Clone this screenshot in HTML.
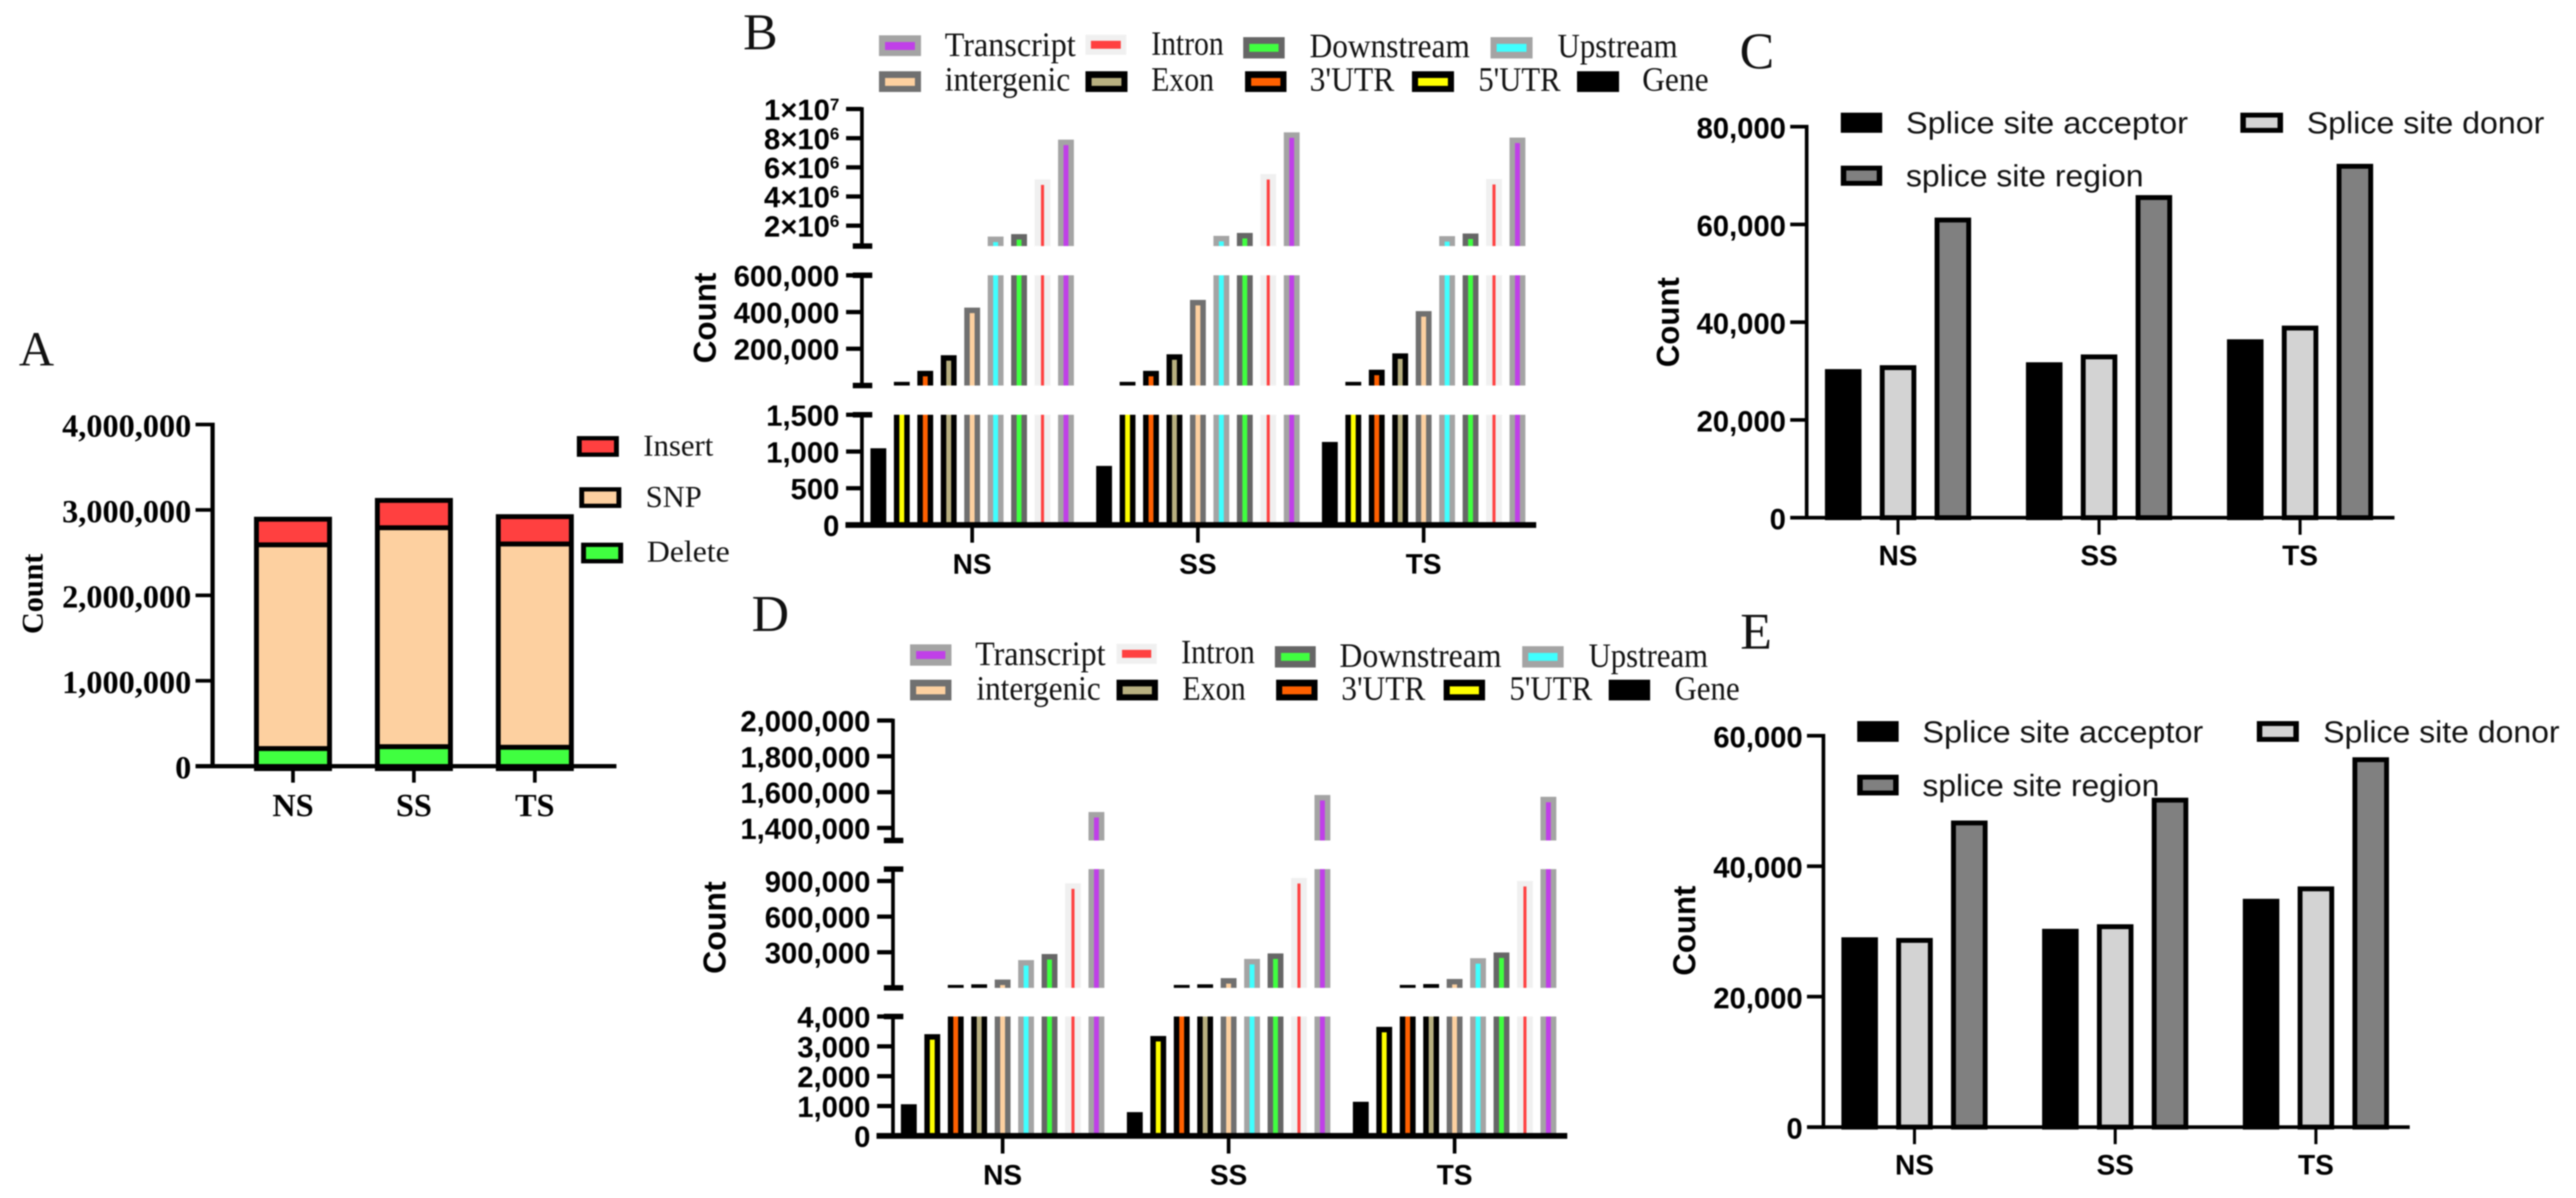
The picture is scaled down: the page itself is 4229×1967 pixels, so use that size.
<!DOCTYPE html>
<html lang="en">
<head>
<meta charset="utf-8">
<title>Variant annotation counts, panels A to E</title>
<style>
html,body{margin:0;padding:0;background:#fff;}
#figure{display:block;filter:blur(1.1px);}
.letter{font:85px "Liberation Serif",serif;fill:#111;}
.lgs{font:56px "Liberation Serif",serif;fill:#111;}
.lga{font:50px "Liberation Serif",serif;fill:#111;}
.lgp{font:50px "Liberation Sans",sans-serif;fill:#111;}
.cntS{font:bold 50px "Liberation Serif",serif;fill:#000;}
.cnt{font:bold 52px "Liberation Sans",sans-serif;fill:#000;}
</style>
</head>
<body>
<svg id="figure" xmlns="http://www.w3.org/2000/svg" width="4229" height="1967" viewBox="0 0 4229 1967">
<rect x="0" y="0" width="4229" height="1967" fill="#fff"/>

<g id="panelA">
  <text class="letter" x="31" y="600" style="font-size:80px">A</text>
  <text class="cntS" transform="translate(70,975) rotate(-90)" text-anchor="middle" textLength="132" lengthAdjust="spacingAndGlyphs">Count</text>
  <g>
    <rect x="947" y="716" width="69" height="34" fill="#000"/><rect x="955" y="723" width="53" height="20" fill="#ff4040"/>
    <text class="lga" x="1056" y="748" textLength="115" lengthAdjust="spacingAndGlyphs">Insert</text>
  </g>
  <g>
    <rect x="951" y="800" width="69" height="34" fill="#000"/><rect x="959" y="807" width="53" height="20" fill="#fdd0a0"/>
    <text class="lga" x="1060" y="832" textLength="92" lengthAdjust="spacingAndGlyphs">SNP</text>
  </g>
  <g>
    <rect x="954" y="891" width="69" height="34" fill="#000"/><rect x="962" y="898" width="53" height="20" fill="#40ff40"/>
    <text class="lga" x="1062" y="922" textLength="136" lengthAdjust="spacingAndGlyphs">Delete</text>
  </g>
</g>

<g id="panelB">
  <text class="letter" x="1220" y="81">B</text>
  <text class="cnt" transform="translate(1175,522) rotate(-90)" text-anchor="middle" textLength="149" lengthAdjust="spacingAndGlyphs">Count</text>
  <g><rect x="1443" y="58" width="69" height="34" fill="#a4a4a4"/><rect x="1453" y="69" width="49" height="13" fill="#c040e8"/><text class="lgs" x="1551" y="92" textLength="215" lengthAdjust="spacingAndGlyphs">Transcript</text></g>
  <g><rect x="1782" y="57" width="67" height="33" fill="#f0f0f0"/><rect x="1791" y="67" width="49" height="13" fill="#ff4040"/><text class="lgs" x="1890" y="90" textLength="119" lengthAdjust="spacingAndGlyphs">Intron</text></g>
  <g><rect x="2041" y="61" width="68" height="35" fill="#666"/><rect x="2051" y="72" width="48" height="13" fill="#40ff40"/><text class="lgs" x="2150" y="94" textLength="263" lengthAdjust="spacingAndGlyphs">Downstream</text></g>
  <g><rect x="2447" y="61" width="69" height="35" fill="#a4a4a4"/><rect x="2457" y="72" width="49" height="13" fill="#40ffff"/><text class="lgs" x="2557" y="94" textLength="197" lengthAdjust="spacingAndGlyphs">Upstream</text></g>
  <g><rect x="1443" y="117" width="69" height="34" fill="#707070"/><rect x="1453" y="128" width="49" height="13" fill="#fdd0a0"/><text class="lgs" x="1551" y="149" textLength="206" lengthAdjust="spacingAndGlyphs">intergenic</text></g>
  <g><rect x="1782" y="117" width="69" height="34" fill="#000"/><rect x="1792" y="128" width="49" height="13" fill="#b8b080"/><text class="lgs" x="1890" y="149" textLength="103" lengthAdjust="spacingAndGlyphs">Exon</text></g>
  <g><rect x="2044" y="117" width="68" height="34" fill="#000"/><rect x="2054" y="128" width="48" height="13" fill="#ff6000"/><text class="lgs" x="2150" y="149" textLength="139" lengthAdjust="spacingAndGlyphs">3'UTR</text></g>
  <g><rect x="2318" y="117" width="69" height="34" fill="#000"/><rect x="2328" y="128" width="49" height="13" fill="#ffff00"/><text class="lgs" x="2427" y="149" textLength="135" lengthAdjust="spacingAndGlyphs">5'UTR</text></g>
  <g><rect x="2589" y="117" width="69" height="34" fill="#000"/><text class="lgs" x="2696" y="149" textLength="109" lengthAdjust="spacingAndGlyphs">Gene</text></g>
</g>

<g id="panelC">
  <text class="letter" x="2856" y="112">C</text>
  <text class="cnt" transform="translate(2756,529) rotate(-90)" text-anchor="middle" textLength="148" lengthAdjust="spacingAndGlyphs">Count</text>
  <g><rect x="3022" y="185" width="68" height="33" fill="#000"/><text class="lgp" x="3129" y="219" textLength="463" lengthAdjust="spacingAndGlyphs">Splice site acceptor</text></g>
  <g><rect x="3678" y="185" width="70" height="33" fill="#000"/><rect x="3687" y="193" width="52" height="17" fill="#d3d3d3"/><text class="lgp" x="3787" y="219" textLength="390" lengthAdjust="spacingAndGlyphs">Splice site donor</text></g>
  <g><rect x="3022" y="272" width="68" height="33" fill="#000"/><rect x="3031" y="280" width="50" height="17" fill="#808080"/><text class="lgp" x="3129" y="306" textLength="390" lengthAdjust="spacingAndGlyphs">splice site region</text></g>
</g>

<g id="panelD">
  <text class="letter" x="1234" y="1036">D</text>
  <text class="cnt" transform="translate(1191,1523) rotate(-90)" text-anchor="middle" textLength="152" lengthAdjust="spacingAndGlyphs">Count</text>
  <g><rect x="1494" y="1058" width="68" height="35" fill="#a4a4a4"/><rect x="1504" y="1069" width="48" height="13" fill="#c040e8"/><text class="lgs" x="1601" y="1092" textLength="214" lengthAdjust="spacingAndGlyphs">Transcript</text></g>
  <g><rect x="1833" y="1057" width="66" height="33" fill="#f0f0f0"/><rect x="1842" y="1067" width="48" height="13" fill="#ff4040"/><text class="lgs" x="1939" y="1089" textLength="121" lengthAdjust="spacingAndGlyphs">Intron</text></g>
  <g><rect x="2093" y="1061" width="67" height="35" fill="#666"/><rect x="2103" y="1072" width="47" height="13" fill="#40ff40"/><text class="lgs" x="2199" y="1095" textLength="266" lengthAdjust="spacingAndGlyphs">Downstream</text></g>
  <g><rect x="2499" y="1061" width="68" height="35" fill="#a4a4a4"/><rect x="2509" y="1072" width="48" height="13" fill="#40ffff"/><text class="lgs" x="2608" y="1095" textLength="196" lengthAdjust="spacingAndGlyphs">Upstream</text></g>
  <g><rect x="1494" y="1116" width="68" height="34" fill="#707070"/><rect x="1504" y="1127" width="48" height="13" fill="#fdd0a0"/><text class="lgs" x="1603" y="1149" textLength="204" lengthAdjust="spacingAndGlyphs">intergenic</text></g>
  <g><rect x="1833" y="1116" width="68" height="34" fill="#000"/><rect x="1843" y="1127" width="48" height="13" fill="#b8b080"/><text class="lgs" x="1941" y="1149" textLength="104" lengthAdjust="spacingAndGlyphs">Exon</text></g>
  <g><rect x="2095" y="1116" width="68" height="34" fill="#000"/><rect x="2105" y="1127" width="48" height="13" fill="#ff6000"/><text class="lgs" x="2202" y="1149" textLength="138" lengthAdjust="spacingAndGlyphs">3'UTR</text></g>
  <g><rect x="2370" y="1116" width="68" height="34" fill="#000"/><rect x="2380" y="1127" width="48" height="13" fill="#ffff00"/><text class="lgs" x="2478" y="1149" textLength="136" lengthAdjust="spacingAndGlyphs">5'UTR</text></g>
  <g><rect x="2641" y="1116" width="68" height="34" fill="#000"/><text class="lgs" x="2749" y="1149" textLength="107" lengthAdjust="spacingAndGlyphs">Gene</text></g>
</g>

<g id="panelE">
  <text class="letter" x="2857" y="1065">E</text>
  <text class="cnt" transform="translate(2783,1528) rotate(-90)" text-anchor="middle" textLength="148" lengthAdjust="spacingAndGlyphs">Count</text>
  <g><rect x="3049" y="1184" width="68" height="34" fill="#000"/><text class="lgp" x="3156" y="1219" textLength="461" lengthAdjust="spacingAndGlyphs">Splice site acceptor</text></g>
  <g><rect x="3705" y="1184" width="69" height="34" fill="#000"/><rect x="3714" y="1192" width="51" height="18" fill="#d3d3d3"/><text class="lgp" x="3814" y="1219" textLength="388" lengthAdjust="spacingAndGlyphs">Splice site donor</text></g>
  <g><rect x="3049" y="1272" width="68" height="34" fill="#000"/><rect x="3058" y="1280" width="50" height="18" fill="#808080"/><text class="lgp" x="3156" y="1307" textLength="389" lengthAdjust="spacingAndGlyphs">splice site region</text></g>
</g>
</svg>

<script>
// ---------- Panel A data ----------
const aCategories = ['NS', 'SS', 'TS'];
const aDelete = [235000, 257000, 250000];
const aSnp = [2385000, 2563000, 2380000];
const aInsert = [300000, 320000, 320000];
const aTicks = [0, 1000000, 2000000, 3000000, 4000000];
const aTickLabels = ['0', '1,000,000', '2,000,000', '3,000,000', '4,000,000'];

// ---------- Panel B data ----------
const bCategories = ['NS', 'SS', 'TS'];
const bGene = [1044, 804, 1130];
const b5utr = [20000, 20000, 20000];
const b3utr = [80000, 80000, 86000];
const bExon = [165000, 170000, 175000];
const bIntergenic = [424000, 466000, 405000];
const bUpstream = [1250000, 1300000, 1280000];
const bDownstream = [1420000, 1500000, 1460000];
const bIntron = [5170000, 5540000, 5200000];
const bTranscript = [7900000, 8400000, 8040000];
const bTopTicks = [2000000, 4000000, 6000000, 8000000, 10000000];
const bTopTickLabels = ['2×10', '4×10', '6×10', '8×10', '1×10'];
const bTopTickExponents = ['6', '6', '6', '6', '7'];
const bMidTicks = [200000, 400000, 600000];
const bMidTickLabels = ['200,000', '400,000', '600,000'];
const bLowTicks = [0, 500, 1000, 1500];
const bLowTickLabels = ['0', '500', '1,000', '1,500'];

// ---------- Panel C data ----------
const cCategories = ['NS', 'SS', 'TS'];
const cAcceptor = [30400, 31800, 36500];
const cDonor = [31200, 33400, 39300];
const cRegion = [61400, 66000, 72400];
const cTicks = [0, 20000, 40000, 60000, 80000];
const cTickLabels = ['0', '20,000', '40,000', '60,000', '80,000'];

// ---------- Panel D data ----------
const dCategories = ['NS', 'SS', 'TS'];
const dGene = [1060, 796, 1143];
const d5utr = [3408, 3347, 3653];
const d3utr = [25000, 25000, 25000];
const dExon = [30000, 30000, 32000];
const dIntergenic = [70000, 82000, 75000];
const dUpstream = [234000, 244000, 250000];
const dDownstream = [285000, 290000, 298000];
const dIntron = [880000, 925000, 900000];
const dTranscript = [1489000, 1584000, 1574000];
const dTopTicks = [1400000, 1600000, 1800000, 2000000];
const dTopTickLabels = ['1,400,000', '1,600,000', '1,800,000', '2,000,000'];
const dMidTicks = [300000, 600000, 900000];
const dMidTickLabels = ['300,000', '600,000', '900,000'];
const dLowTicks = [0, 1000, 2000, 3000, 4000];
const dLowTickLabels = ['0', '1,000', '2,000', '3,000', '4,000'];

// ---------- Panel E data ----------
const eCategories = ['NS', 'SS', 'TS'];
const eAcceptor = [29100, 30400, 35000];
const eDonor = [29000, 31100, 36900];
const eRegion = [47000, 50500, 56700];
const eTicks = [0, 20000, 40000, 60000];
const eTickLabels = ['0', '20,000', '40,000', '60,000'];

// ---------- Shared names and colours ----------
const brokenSeriesNames = ['gene', '5utr', '3utr', 'exon', 'intergenic', 'upstream', 'downstream', 'intron', 'transcript'];
const brokenEdgeColors = ['#000', '#000', '#000', '#000', '#707070', '#a4a4a4', '#666', '#f0f0f0', '#a4a4a4'];
const brokenFillColors = ['#000', '#ffff00', '#ff6000', '#b8b080', '#fdd0a0', '#40ffff', '#40ff40', '#ff4040', '#c040e8'];
const spliceSeriesNames = ['acceptor', 'donor', 'region'];
const spliceFillColors = ['#000', '#d3d3d3', '#808080'];

const SVGNS = 'http://www.w3.org/2000/svg';
const SANS = '"Liberation Sans",sans-serif';
const SERIF = '"Liberation Serif",serif';

function mk(tag, parent, props) {
  const node = document.createElementNS(SVGNS, tag);
  Object.keys(props).forEach(function (k) { node.setAttribute(k, props[k]); });
  parent.appendChild(node);
  return node;
}
function linear(d0, d1, r0, r1) {
  return function (v) { return r0 + (v - d0) / (d1 - d0) * (r1 - r0); };
}
function hLine(parent, x1, x2, y, w) {
  return mk('line', parent, { x1: x1, x2: x2, y1: y, y2: y, stroke: '#000', 'stroke-width': w });
}
function vLine(parent, x, y1, y2, w) {
  return mk('line', parent, { x1: x, x2: x, y1: y1, y2: y2, stroke: '#000', 'stroke-width': w });
}
function label(parent, x, y, str, size, family, anchor) {
  const t = mk('text', parent, { x: x, y: y, 'text-anchor': anchor, 'font-family': family, 'font-size': size, 'font-weight': 'bold', fill: '#000' });
  t.textContent = str;
  return t;
}

// ---------- Panel A: stacked bars ----------
(function () {
  const root = document.getElementById('panelA');
  const y = linear(0, 4000000, 1258, 697);
  const x = function (i) { return 481 + i * 198.5; };
  const stacks = [aDelete, aSnp, aInsert];
  const names = ['delete', 'snp', 'insert'];
  const fills = ['#40ff40', '#fdd0a0', '#ff4040'];
  aCategories.forEach(function (cat, i) {
    let base = 0;
    stacks.forEach(function (series, s) {
      const top = base + series[i];
      const bar = mk('rect', root, { x: x(i) - 60, y: y(top) + 4, width: 120, height: Math.max(0, y(base) - y(top)), fill: fills[s], stroke: '#000', 'stroke-width': 8 });
      
      
      base = top;
    });
    const tick = vLine(root, x(i), 1258, 1285, 6);
    
    
    const tl = label(root, x(i), 1340, cat, 53, SERIF, 'middle');
    
    
  });
  const axis = vLine(root, 349, 694, 1261, 7);
  
  
  const base = hLine(root, 321, 1012, 1258, 7);
  
  
  aTicks.forEach(function (v, i) {
    const tick = hLine(root, 321, 349, y(v), 6);
    
    
    const tl = label(root, 314, y(v) + 20, aTickLabels[i], 53, SERIF, 'end');
    
    
  });
})();

// ---------- Panels B and D: broken-axis bars ----------
function drawBroken(rootId, categories, series, segments, layout) {
  const root = document.getElementById(rootId);
  categories.forEach(function (cat, g) {
    series.forEach(function (values, s) {
      const v = values[g];
      const xc = layout.firstBar + g * layout.groupStep + s * layout.barPitch;
      const inner = brokenSeriesNames[s] === 'intron' ? 5 : 8;
      segments.forEach(function (seg) {
        // A bar only reaches a segment once it exceeds the range of the segment below.
        if (v <= seg.floor) { return; }
        const clipped = v >= seg.max;
        const top = seg.y(Math.min(v, seg.max));
        const bottom = seg.y(seg.min);
        const bar = mk('rect', root, { x: xc - 13, y: top, width: 26, height: bottom - top, fill: brokenEdgeColors[s] });
        
        
        const innerTop = clipped ? top : top + 9;
        if (bottom - innerTop > 0) {
          const fill = mk('rect', root, { x: xc - inner / 2, y: innerTop, width: inner, height: bottom - innerTop, fill: brokenFillColors[s] });
          
          
        }
      });
    });
  });
  const ax = layout.axisX;
  segments.forEach(function (seg, idx) {
    const yTop = seg.y(seg.max);
    const yBot = seg.y(seg.min);
    const line = vLine(root, ax, yTop - 3, yBot + 3, 6);
    
    
    seg.ticks.forEach(function (v, i) {
      const yy = seg.y(v);
      const tick = hLine(root, ax - 26, ax, yy, 7);
      
      
      const tl = label(root, ax - 37, yy + 18, seg.labels[i], 48, SANS, 'end');
      
      
      if (seg.exponents) {
        tl.setAttribute('text-anchor', 'end');
        const sup = mk('tspan', tl, { dy: -16, 'font-size': 28 });
        sup.textContent = seg.exponents[i];
      }
    });
    if (idx < segments.length - 1) {
      const capBottom = hLine(root, ax - 15, ax + 17, yBot, 9);
      
      
    }
    if (idx > 0) {
      const capTop = hLine(root, ax - 15, ax + 17, yTop, 9);
      
      
    }
  });
  const zeroY = segments[segments.length - 1].y(0);
  const baseline = hLine(root, ax - 27, layout.baselineEnd, zeroY, 9.5);
  
  
  categories.forEach(function (cat, g) {
    const xc = layout.firstBar + g * layout.groupStep + 4 * layout.barPitch;
    const tick = vLine(root, xc, zeroY, zeroY + 29, 6);
    
    
    const tl = label(root, xc, zeroY + 80, cat, 46, SANS, 'middle');
    
    
  });
}

drawBroken('panelB', bCategories,
  [bGene, b5utr, b3utr, bExon, bIntergenic, bUpstream, bDownstream, bIntron, bTranscript],
  [
    { min: 600000, floor: 600000, max: 10000000, y: linear(600000, 10000000, 404, 179), ticks: bTopTicks, labels: bTopTickLabels, exponents: bTopTickExponents },
    { min: 0, floor: 1500, max: 600000, y: linear(0, 600000, 633, 452), ticks: bMidTicks, labels: bMidTickLabels },
    { min: 0, floor: 0, max: 1500, y: linear(0, 1500, 862, 681), ticks: bLowTicks, labels: bLowTickLabels }
  ],
  { firstBar: 1442, groupStep: 370.6, barPitch: 38.5, axisX: 1415, baselineEnd: 2522 });

drawBroken('panelD', dCategories,
  [dGene, d5utr, d3utr, dExon, dIntergenic, dUpstream, dDownstream, dIntron, dTranscript],
  [
    { min: 1330000, floor: 1330000, max: 2000000, y: linear(1330000, 2000000, 1380, 1183), ticks: dTopTicks, labels: dTopTickLabels },
    { min: 0, floor: 4000, max: 1000000, y: linear(0, 1000000, 1622, 1427), ticks: dMidTicks, labels: dMidTickLabels },
    { min: 0, floor: 0, max: 4000, y: linear(0, 4000, 1865, 1669), ticks: dLowTicks, labels: dLowTickLabels }
  ],
  { firstBar: 1492, groupStep: 371, barPitch: 38.5, axisX: 1466, baselineEnd: 2573 });

// ---------- Panels C and E: grouped bars ----------
function drawSplice(rootId, categories, series, ticks, tickLabels, layout) {
  const root = document.getElementById(rootId);
  const y = linear(0, layout.maxValue, layout.zeroY, layout.topY);
  categories.forEach(function (cat, g) {
    series.forEach(function (values, s) {
      const xc = layout.firstCenter + g * layout.groupStep + s * layout.barPitch;
      const top = y(values[g]);
      const bar = mk('rect', root, { x: xc - 26, y: top + 4, width: 52, height: Math.max(0, layout.zeroY - top - 4), fill: spliceFillColors[s], stroke: '#000', 'stroke-width': 8 });
      
      
    });
    const xm = layout.firstCenter + g * layout.groupStep + layout.barPitch;
    const tick = vLine(root, xm, layout.zeroY, layout.zeroY + 28, 5);
    
    
    const tl = label(root, xm, layout.zeroY + 78, cat, 46, SANS, 'middle');
    
    
  });
  const axis = vLine(root, layout.axisX, layout.topY - 3, layout.zeroY + 3, 6);
  
  
  const base = hLine(root, layout.axisX - 27, layout.baselineEnd, layout.zeroY, 6);
  
  
  ticks.forEach(function (v, i) {
    const tick = hLine(root, layout.axisX - 27, layout.axisX, y(v), 6);
    
    
    const tl = label(root, layout.axisX - 34, y(v) + 19, tickLabels[i], 48, SANS, 'end');
    
    
  });
}

drawSplice('panelC', cCategories, [cAcceptor, cDonor, cRegion], cTicks, cTickLabels,
  { maxValue: 80000, zeroY: 850, topY: 208, axisX: 2966, baselineEnd: 3931, firstCenter: 3026, groupStep: 330, barPitch: 90 });

drawSplice('panelE', eCategories, [eAcceptor, eDonor, eRegion], eTicks, eTickLabels,
  { maxValue: 60000, zeroY: 1850.6, topY: 1208, axisX: 2993.5, baselineEnd: 3956, firstCenter: 3053, groupStep: 329.5, barPitch: 90 });
</script>
</body>
</html>
